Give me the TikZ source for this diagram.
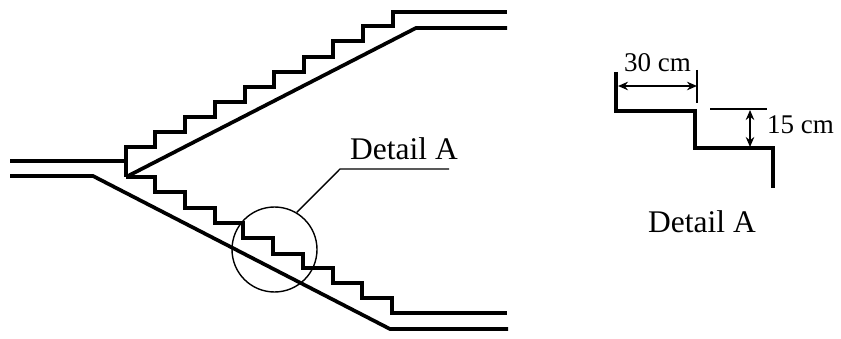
\documentclass[tikz,border=0pt]{standalone}
\usepackage{fontspec}
\setmainfont{Liberation Serif}
\usetikzlibrary{arrows.meta}

\tikzset{
    stair/.style={line width=3.7pt},
    thinline/.style={line width=1.4pt},
    dimarrow/.style={line width=1.8pt, {Stealth[length=10pt,width=8.5pt]}-{Stealth[length=10pt,width=8.5pt]}},
    biglabel/.style={font=\fontsize{31.5}{32}\selectfont, anchor=base, inner sep=0pt},
    dimlabel/.style={font=\fontsize{27}{27}\selectfont, anchor=base, inner sep=0pt}
}

\begin{document}
\begin{tikzpicture}[x=1pt, y=-1pt]
    \useasboundingbox (0, 0) rectangle (841, 339);

    % inlet
    \draw[stair] (10, 161) -- (126, 161);
    \draw[stair] (10, 176) -- (93, 176) -- (390, 329) -- (508, 329);

    % upper stair
    \draw[stair] (126, 177) -- (126, 147) -- (155, 147) -- (155, 132) -- (185, 132)
        -- (185, 117) -- (215, 117) -- (215, 102) -- (245, 102) -- (245, 87)
        -- (274, 87) -- (274, 72) -- (304, 72) -- (304, 57) -- (333, 57)
        -- (333, 41) -- (363, 41) -- (363, 26) -- (393, 26) -- (393, 12) -- (507, 12);
    \draw[stair] (126, 177) -- (416, 28) -- (507, 28);

    % lower stair
    \draw[stair] (126, 177) -- (155, 177) -- (155, 192) -- (185, 192) -- (185, 208)
        -- (215, 208) -- (215, 223) -- (243, 223) -- (243, 238) -- (273, 238)
        -- (273, 254) -- (303, 254) -- (303, 268) -- (333, 268) -- (333, 283)
        -- (362, 283) -- (362, 298) -- (392, 298) -- (392, 313) -- (507, 313);

    % detail circle
    \node[circle, draw, thinline, minimum size=85pt, inner sep=0pt] (circA) at (274.5, 249.5) {};
    \coordinate (leaderknee) at (340, 169);
    \coordinate (leaderend) at (449, 169);
    \draw[thinline] (circA.59) -- (leaderknee) -- (leaderend);
    \node[biglabel] (detailtop) at (404, 160) {Detail A};

    % detail A
    \draw[stair] (616, 72) -- (616, 111) -- (695, 111) -- (695, 148) -- (773, 148) -- (773, 188);
    \coordinate (widthtop) at (697, 70);
    \coordinate (widthbot) at (697, 103);
    \coordinate (widthl) at (618, 86);
    \coordinate (widthr) at (697, 86);
    \coordinate (heightl) at (710, 109);
    \coordinate (heightr) at (767, 109);
    \coordinate (heightt) at (750, 110);
    \coordinate (heightb) at (750, 147);
    \draw[thinline] (widthtop) -- (widthbot);
    \draw[thinline] (heightl) -- (heightr);
    \draw[dimarrow] (widthl) -- (widthr);
    \draw[dimarrow] (heightt) -- (heightb);
    \node[dimlabel] (width) at (657.5, 72) {30 cm};
    \node[dimlabel] (height) at (800.5, 133.5) {15 cm};
    \node[biglabel] (detailbot) at (702, 233) {Detail A};
\end{tikzpicture}
\end{document}
